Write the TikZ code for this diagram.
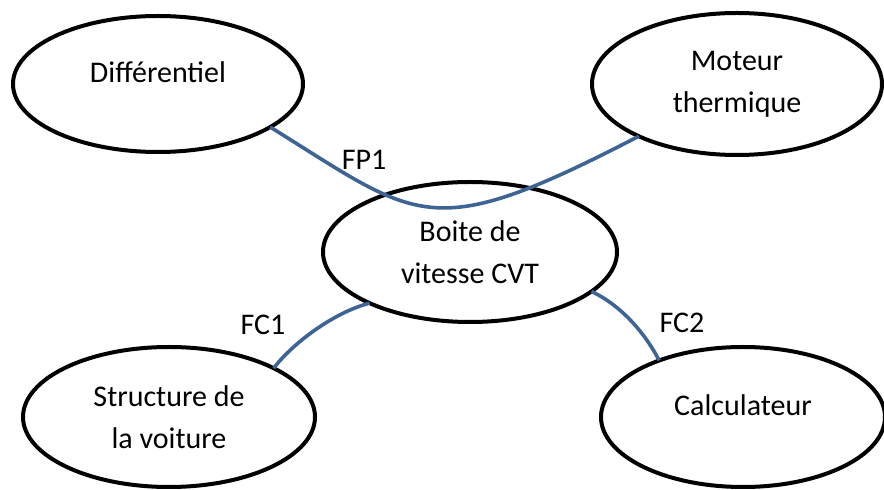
\documentclass[tikz,border=0pt]{standalone}
\usepackage{fontspec}
\setmainfont{Carlito}
\usetikzlibrary{shapes.geometric}
\definecolor{linkblue}{RGB}{62,100,150}
\begin{document}
\begin{tikzpicture}[x=1pt,y=1pt,
  oval/.style={ellipse, draw=black, line width=4pt, inner sep=0pt, outer sep=0pt},
  txt/.style={font=\fontsize{30}{42}\selectfont, align=center, inner sep=0pt},
  link/.style={draw=linkblue, line width=3.6pt},
  lbl/.style={font=\fontsize{30}{36}\selectfont, inner sep=0pt}]
\useasboundingbox (0,0) rectangle (884,490);
\node[oval, minimum width=290pt, minimum height=136pt,
  label={[txt, yshift=12pt]center:Différentiel}] (d) at (158,406) {};
\node[oval, minimum width=290pt, minimum height=142pt,
  label={[txt]center:Moteur\\thermique}] (m) at (737,406) {};
\node[oval, minimum width=294pt, minimum height=140pt,
  label={[txt]center:Boite de\\vitesse CVT}] (b) at (470,238) {};
\node[oval, minimum width=292pt, minimum height=140pt,
  label={[txt]center:Structure de\\la voiture}] (s) at (169,73) {};
\node[oval, minimum width=284pt, minimum height=140pt,
  label={[txt, yshift=12pt]center:Calculateur}] (c) at (743,73) {};
% connectors
\draw[link] (d.-21) .. controls +(150pt,-93pt) and +(-210pt,-109pt) .. (m.-152);
\draw[link] (b.-153) .. controls +(-35pt,-9pt) and +(20pt,26pt) .. (s.25);
\draw[link] (b.-18) .. controls +(30pt,-14pt) and +(-14pt,27pt) .. (c.146);
% labels
\node[lbl] (fp1) at (364,330) {FP1};
\node[lbl] (fc1) at (263,165) {FC1};
\node[lbl] (fc2) at (682,167) {FC2};
\end{tikzpicture}
\end{document}
